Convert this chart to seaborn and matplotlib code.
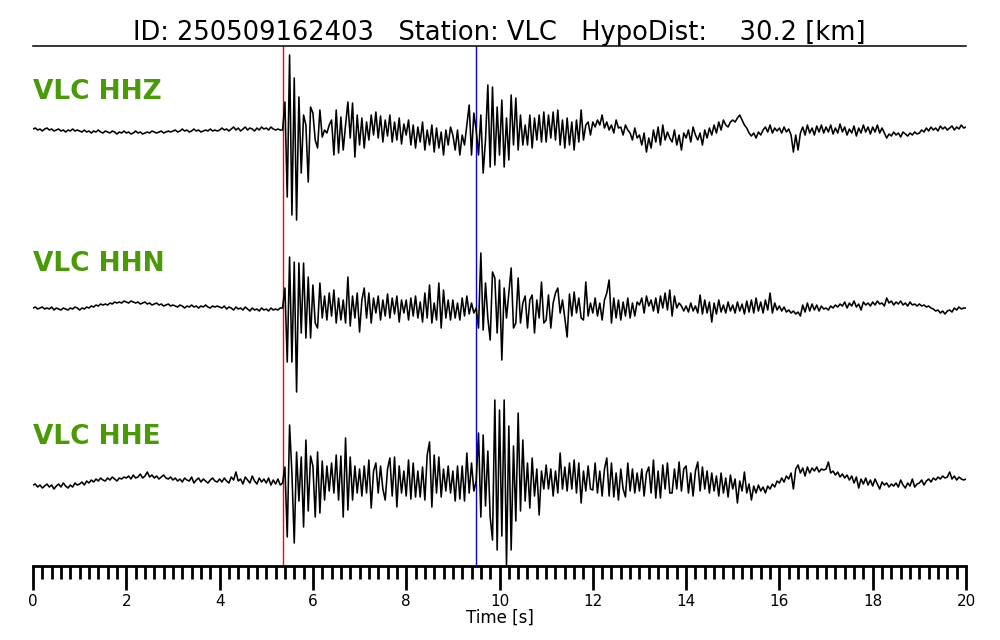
import numpy as np
import pandas as pd
import seaborn as sns
import matplotlib
matplotlib.use("Agg")
import matplotlib.pyplot as plt
from matplotlib.ticker import MultipleLocator

# event info
event_id = "250509162403"
station = "VLC"
hypo_dist = 30.2
p_pick = 5.36
s_pick = 9.50

channels = ["HHZ", "HHN", "HHE"]
dt = 0.05  # samples every 0.05 s

# amplitudes (pixel units, up = positive), one row per second
hhz = [
    1, 2, 0, 1, -1, 1, 2, 0, 1, -1, 0, 1, -1, 0, -2, 0, -1, 1, -1, 0,
    -1, -2, 0, -2, -1, -3, -1, -2, 0, -2, -3, -1, -2, -3, -1, -2, -4, -2, -3, -1,
    -3, -2, -4, -3, -1, -3, -2, -4, -3, -2, -3, -1, -2, -3, -2, -1, -3, -2, -1, -2,
    -1, 0, -2, -1, 1, -1, 0, -2, -1, 1, -1, 0, -2, -1, 0, -1, 1, -1, 0, -1,
    0, 2, 0, 1, -1, 1, 3, 0, 2, -1, 1, 3, 0, 2, 1, -1, 2, 0, 3, 1,
    2, 0, 3, 1, 0, 1, 0, 0, 28, -67, 75, -85, 52, -90, 33, -43, 15, 5, -52, 23,
    17, -10, -18, 20, -7, 0, -3, 5, 10, -25, 20, -23, 13, -20, 5, 28, -8, 27, -27, 15,
    -15, 12, -18, 8, -10, 15, -5, 18, -8, 14, -12, 10, -6, 15, -12, 8, -10, 12, -14, 6,
    -5, 10, -15, 5, -18, 3, -12, 8, -20, 0, -15, 5, -22, 2, -18, -2, -25, 0, -15, 3,
    -5, -20, 0, -25, -5, -15, 5, 25, -25, 17, 0, -25, 15, -43, -10, 45, -37, 43, -35, 23,
    -25, 30, -37, 12, -30, 35, -15, 32, -20, 15, -15, 5, -15, 15, -18, 12, -10, 15, -12, 18,
    -12, 15, -8, 18, -10, 20, -15, 10, -18, 12, -15, 8, -20, 10, -12, 20, -10, 5, 8, -5,
    8, 3, 10, 5, 15, 2, 8, 0, 5, -3, 10, 2, 3, -5, 5, 0, -3, -10, 2, -8,
    -5, -15, -3, -22, -8, -18, 0, -12, 3, -15, 5, -10, -2, -8, -12, 0, -15, -5, -20, -3,
    -8, 0, -12, 3, -5, -10, -3, -15, 0, -8, 2, -5, 5, -3, 8, 0, 10, 5, 3, 8,
    10, 8, 12, 15, 10, 5, 2, -3, -6, -3, -8, -2, -5, 0, 3, -2, 5, -3, 2, -1,
    2, -3, 3, -2, 1, -5, -22, -5, -20, -3, 3, -5, 5, -3, 2, -5, 4, -2, 5, -3,
    3, -2, 5, -4, 2, -3, 6, -2, 3, -5, 1, -3, 4, -6, 2, -3, 5, -2, 3, -4,
    3, -2, 5, -3, 2, -3, -8, -4, -6, -2, -5, -3, -7, -2, -4, -6, -3, -5, -2, -4,
    -3, 0, -2, 2, -1, 3, 0, 2, -1, 4, 1, 3, 0, 2, 4, 0, 3, 1, 5, 2,
    3,
]

hhn = [
    0, 1, -1, 0, 1, -1, 0, -1, 1, -2, 0, -1, -2, 0, -1, -2, 0, -1, 1, 0,
    -2, 0, -1, 1, 0, 2, 1, 3, 2, 4, 3, 4, 3, 5, 4, 6, 5, 6, 5, 7,
    6, 5, 7, 6, 5, 6, 4, 5, 6, 4, 5, 3, 4, 5, 3, 4, 2, 3, 4, 2,
    3, 2, 1, 3, 2, 0, 2, 1, 3, 1, 2, 0, 2, 1, 3, 1, 0, 2, 1, 2,
    1, 0, 2, -1, 1, 0, -2, 1, -1, 0, -2, 1, -1, -3, 0, -2, -1, -3, 0, -2,
    -1, -3, 0, -2, -1, -2, 0, 0, 20, -54, 51, -54, 46, -84, 45, -25, 45, -30, 31, -30,
    23, -15, -20, 25, -10, 12, -12, 15, -8, 18, -15, 10, -12, 8, -15, 31, -18, 12, -10, 15,
    -24, 8, 20, -10, 15, -15, 10, -5, 12, -12, 8, -8, 14, -10, 10, -6, 12, -14, 8, -5,
    8, -12, 10, -8, 12, -10, 6, -14, 15, -10, 23, -15, 5, -12, 25, -20, 18, -10, 8, -12,
    8, -10, 5, -12, 10, -8, 12, -6, 5, -5, 0, -20, 55, -22, 25, -10, -32, 36, 30, -25,
    28, -52, 20, -10, 15, 40, -20, -15, 30, -15, 5, 12, -20, 8, 13, -25, 8, -10, 26, -15,
    -12, 13, -20, 5, 15, 20, -5, 8, -10, -29, 14, -8, 16, -5, 10, -10, -12, 26, -8, 5,
    -5, 10, -8, 5, -12, 8, 15, 28, -15, 10, -10, 8, -12, 6, -8, 10, -10, 5, -8, 6,
    3, 10, -5, 12, 2, 8, -3, 10, -5, 12, 0, 15, -2, 18, -8, 12, 0, 5, 2, -3,
    2, -4, 5, -3, 2, -5, 13, -6, 8, -5, 6, -14, 5, -6, 8, -4, 3, -5, 6, -3,
    3, -5, 6, -3, 4, -6, 7, -4, 8, -5, 10, -3, 6, -5, 8, -2, 15, -5, 5, -2,
    2, -3, 1, -4, -2, -5, -3, -6, -4, -8, 3, -4, 5, -3, 4, -2, 3, -3, 2, -1,
    0, -2, 2, 0, 3, 1, 4, 2, 6, 0, 5, 2, 7, 1, 4, -2, 6, 3, 5, 2,
    6, 3, 7, 4, 5, 2, 10, 5, 7, 3, 6, 4, 7, 3, 5, 2, 6, 3, 4, 2,
    4, 2, 3, 1, 2, 0, -1, -3, -2, -5, -3, -6, -3, -2, -4, 0, -2, 1, -1, 0,
    0,
]

hhe = [
    -4, -3, -6, -4, -7, -5, -3, -6, -4, -8, -5, -3, -6, -2, -5, -7, -4, -6, -2, -4,
    -3, -1, -4, 0, -2, 1, -1, 2, 0, 3, 1, 0, 3, 1, 4, 2, 0, 3, 2, 4,
    3, 5, 2, 6, 3, 4, 7, 3, 5, 9, 4, 6, 3, 5, 2, 4, 6, 3, 2, 4,
    1, 3, 0, 2, -1, 3, 1, 0, 4, -2, 1, 3, -1, 2, 0, -2, 1, 3, 0, -1,
    2, -1, 3, 0, -2, 4, 1, 9, 0, 2, -3, 4, 1, -2, 5, 0, -3, 3, -1, 2,
    -2, 3, -4, 1, -3, 2, -4, -2, 14, -56, 56, 8, -62, 29, -20, 24, -46, 41, -30, 25,
    15, -36, 29, -32, 20, -19, 15, -10, 18, -12, 26, -19, 25, -36, 43, -29, 24, -19, 15, -12,
    12, -15, 15, -12, 21, -27, 10, 18, -12, 15, -8, -19, 12, 23, -15, 24, -26, 15, -12, 10,
    -15, 21, -18, 18, -16, 10, -16, 14, -19, 26, 39, -26, 26, -12, 24, -16, 12, -10, 15, -12,
    10, -20, 15, -18, 15, -20, 28, -12, 18, -10, 0, 48, -36, 46, -25, 30, -36, -59, 81, -69,
    71, -55, 81, -84, 55, -69, 35, -40, 68, -30, 41, -20, 18, -27, 23, -15, 12, -34, 10, -8,
    16, -8, 12, -15, 10, -12, 28, -8, 14, -10, 18, -8, 21, -12, 18, -22, 10, -10, 15, -8,
    -9, 18, -12, 10, -15, 12, 23, -15, 18, -16, 8, -19, 12, -8, -16, 18, -10, 12, -12, 8,
    -10, 12, -15, 8, 14, -12, 21, -17, 10, -17, 16, -8, 18, -12, -12, 12, -8, 19, -10, 12,
    15, -12, 8, -15, 10, 19, -10, 14, -8, 10, -12, 8, -10, 5, -15, 8, -12, 3, -16, 6,
    -8, 2, -22, 0, -10, 9, -12, -3, -19, -5, -12, -4, -10, -6, -12, -5, -8, -3, -6, 0,
    -2, 3, -1, 5, 2, 8, -8, 12, 16, 8, 13, 5, 14, 8, 13, 10, 14, 9, 12, 11,
    12, 19, 8, 10, 6, 9, 4, 7, 3, 6, 1, 5, -2, 4, -7, 2, -3, 3, -4, 1,
    -5, 2, -3, -8, -1, -4, -2, -6, -3, -5, -2, -6, 1, -4, -7, -2, -5, 2, -6, -3,
    -2, 1, -4, 0, 2, -1, 3, 1, 4, 2, 5, 3, 4, 9, 2, 5, 1, 4, 2, 1,
    2,
]

traces = {"HHZ": hhz, "HHN": hhn, "HHE": hhe}
# vertical position of each trace (axis units, counted down from the top)
offsets = {"HHZ": 84, "HHN": 262, "HHE": 435}
label_y = {"HHZ": 46, "HHN": 218, "HHE": 391}

frames = []
for ch in channels:
    amp = np.array(traces[ch], dtype=float)
    t = np.arange(len(amp)) * dt
    frames.append(pd.DataFrame({"time": t, "y": offsets[ch] - amp, "channel": ch}))
df = pd.concat(frames, ignore_index=True)

sns.set_style("white")
plt.rcParams.update({"text.color": "black", "axes.labelcolor": "black",
                     "xtick.color": "black", "ytick.color": "black"})

fig = plt.figure(figsize=(10, 6.4), dpi=100)
ax = fig.add_axes([0.033, 0.1156, 0.933, 0.8125])

ax.axvline(p_pick, color="red", lw=1.0, zorder=1)
ax.axvline(s_pick, color="blue", lw=1.0, zorder=1)

sns.lineplot(data=df, x="time", y="y", hue="channel",
             palette={c: "black" for c in channels},
             estimator=None, sort=False, legend=False, lw=1.15, ax=ax, zorder=2)

for ch in channels:
    ax.text(0, label_y[ch], f"{station} {ch}", color="#4a9a06",
            fontsize=19, fontweight="bold", ha="left", va="center")

ax.set_xlim(0, 20)
ax.set_ylim(520, 0)
ax.set_yticks([])
ax.set_ylabel("")
ax.xaxis.set_major_locator(MultipleLocator(2))
ax.xaxis.set_minor_locator(MultipleLocator(0.2))
ax.tick_params(axis="x", which="major", direction="out", length=17, width=2,
               labelsize=11, pad=3, bottom=True, color="black", labelcolor="black")
ax.tick_params(axis="x", which="minor", direction="out", length=9, width=2,
               bottom=True, color="black")
ax.set_xlabel("Time [s]", fontsize=12, labelpad=0, color="black")

for side in ["left", "right"]:
    ax.spines[side].set_visible(False)
ax.spines["bottom"].set_linewidth(2)
ax.spines["top"].set_linewidth(1.1)
for side in ["top", "bottom"]:
    ax.spines[side].set_color("black")

ax.set_title(f"ID: {event_id}   Station: {station}   HypoDist:    {hypo_dist} [km]",
             fontsize=18.5, pad=4, color="black")

fig.savefig("out.png", dpi=100, facecolor="white")
